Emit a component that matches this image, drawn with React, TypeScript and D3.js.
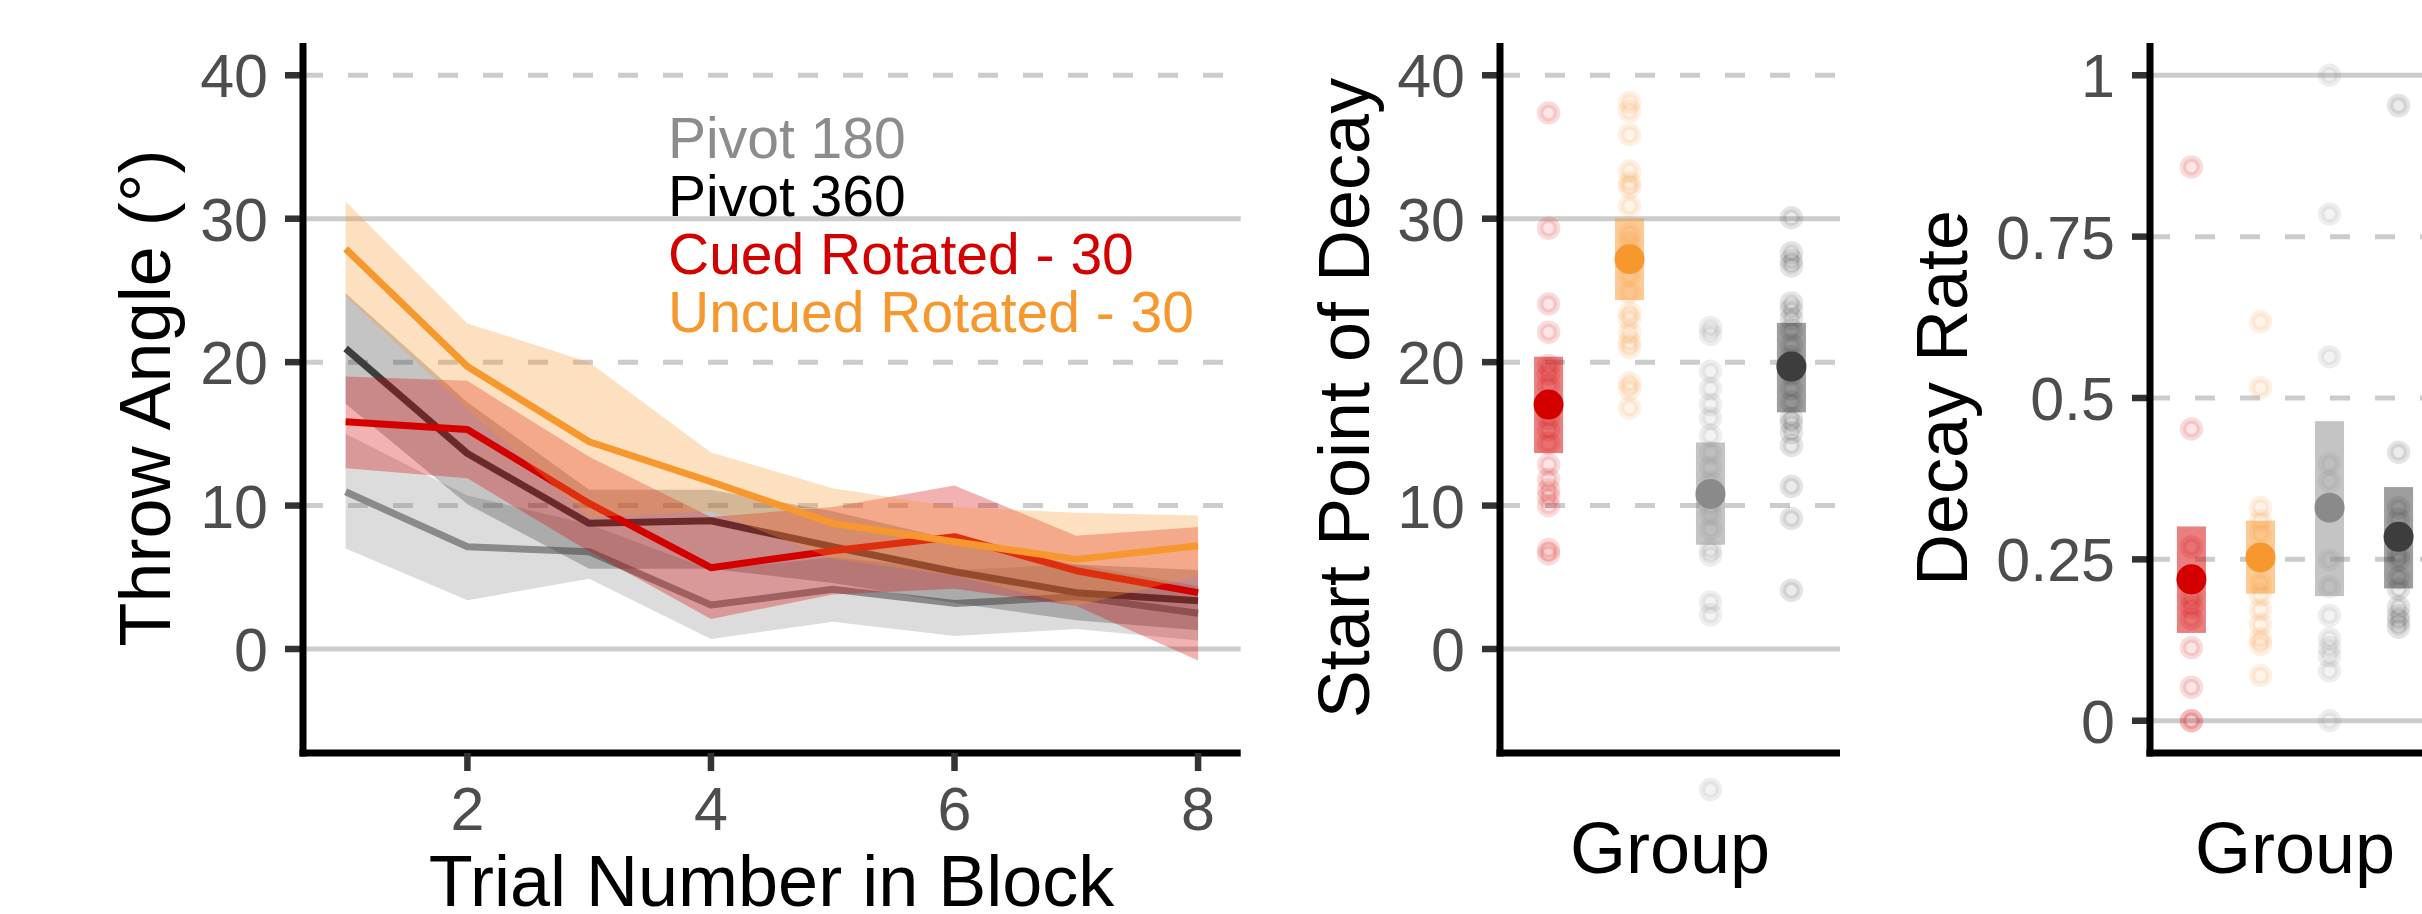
import React, { useEffect } from 'react';
import * as d3 from 'd3';

// ---------- data ----------
const trials = [1, 2, 3, 4, 5, 6, 7, 8];
const xTicks = [2, 4, 6, 8];
const yTicksAngle = [0, 10, 20, 30, 40];
const yTicksRate = [0, 0.25, 0.5, 0.75, 1];
const yTickRateLabels = ['0', '0.25', '0.5', '0.75', '1'];

const pivot180Mean = [10.96, 7.13, 6.78, 3.07, 4.16, 3.18, 3.65, 2.49];
const pivot180Upper = [15.0, 10.7, 8.7, 5.5, 6.4, 5.5, 5.9, 4.4];
const pivot180Lower = [7.0, 3.4, 4.9, 0.7, 1.9, 0.9, 1.4, 0.6];

const pivot360Mean = [20.95, 13.63, 8.76, 8.94, 7.13, 5.39, 3.93, 3.37];
const pivot360Upper = [24.8, 17.2, 11.1, 11.1, 9.6, 7.6, 5.9, 5.5];
const pivot360Lower = [17.1, 10.1, 5.6, 5.6, 4.6, 3.2, 2.0, 1.3];

const cuedMean = [15.84, 15.3, 10.15, 5.67, 6.85, 7.83, 5.46, 3.93];
const cuedUpper = [19.0, 18.7, 13.4, 9.2, 9.9, 11.4, 7.9, 8.5];
const cuedLower = [12.6, 11.9, 6.8, 2.1, 3.8, 4.2, 3.0, -0.8];

const uncuedMean = [27.9, 19.7, 14.45, 11.66, 8.76, 7.48, 6.25, 7.2];
const uncuedUpper = [31.2, 22.7, 20.0, 13.7, 11.2, 9.9, 9.5, 9.3];
const uncuedLower = [24.6, 16.7, 9.2, 9.6, 6.3, 5.1, 3.0, 5.1];

const groups = ['Cued Rotated - 30', 'Uncued Rotated - 30', 'Pivot 180', 'Pivot 360'];
const groupColors = ['#d40000', '#f7982f', '#8a8a8a', '#3d3d3d'];
const legendLabels = ['Pivot 180', 'Pivot 360', 'Cued Rotated - 30', 'Uncued Rotated - 30'];
const legendColors = ['#8c8c8c', '#000000', '#d40000', '#f7982f'];

const cuedStart = [37.37, 29.34, 24.05, 22.09, 19.77, 19.16, 18.35, 17.12, 16.1, 15.29, 14.35, 12.85, 11.83, 11.1, 10.61, 9.99, 6.94, 6.62];
const uncuedStart = [38.1, 37.49, 35.86, 33.33, 32.52, 32.19, 30.89, 28.93, 28.33, 27.63, 26.08, 24.86, 23.44, 23.03, 22.09, 21.4, 21.0, 18.55, 18.14, 16.8];
const pivot180Start = [22.42, 21.93, 19.37, 18.14, 17.04, 16.1, 14.88, 13.66, 12.64, 11.62, 9.99, 9.39, 8.37, 6.94, 6.54, 3.28, 2.38, -9.8];
const pivot360Start = [30.07, 27.63, 27.1, 26.7, 24.13, 23.64, 23.03, 22.22, 21.2, 20.38, 19.16, 18.14, 17.2, 16.1, 15.7, 15.09, 14.19, 11.34, 9.1, 4.09];
const startMean = [17.04, 27.18, 10.81, 19.69];
const startLow = [13.66, 24.33, 7.27, 16.5];
const startHigh = [20.38, 30.03, 14.4, 22.74];

const cuedDecay = [0.858, 0.452, 0.269, 0.213, 0.19, 0.176, 0.158, 0.113, 0.052, 0.0, 0.0];
const uncuedDecay = [0.618, 0.516, 0.33, 0.31, 0.29, 0.25, 0.213, 0.195, 0.172, 0.149, 0.127, 0.118, 0.07];
const pivot180Decay = [1.0, 0.785, 0.564, 0.398, 0.371, 0.249, 0.208, 0.163, 0.127, 0.113, 0.1, 0.077, 0.0];
const pivot360Decay = [0.953, 0.416, 0.33, 0.312, 0.285, 0.258, 0.249, 0.222, 0.204, 0.176, 0.163, 0.154, 0.145];
const decayMean = [0.219, 0.253, 0.33, 0.285];
const decayLow = [0.136, 0.197, 0.193, 0.205];
const decayHigh = [0.301, 0.31, 0.464, 0.362];

// ---------- layout ----------
const W = 2422;
const H = 914;
const FONT = '"Liberation Sans", Arial, Helvetica, sans-serif';
const TICK_COLOR = '#4d4d4d';
const GRID = '#cccccc';
const panelTop = 43;
const panelBottom = 753;

const lineSeries = [
  { mean: pivot180Mean, up: pivot180Upper, lo: pivot180Lower, color: '#8a8a8a' },
  { mean: pivot360Mean, up: pivot360Upper, lo: pivot360Lower, color: '#3d3d3d' },
  { mean: cuedMean, up: cuedUpper, lo: cuedLower, color: '#d40000' },
  { mean: uncuedMean, up: uncuedUpper, lo: uncuedLower, color: '#f7982f' },
];

const startPoints = [cuedStart, uncuedStart, pivot180Start, pivot360Start];
const decayPoints = [cuedDecay, uncuedDecay, pivot180Decay, pivot360Decay];

function Grid({ x0, x1, yScale, ticks, solid }) {
  return (
    <g>
      {ticks.map((t, i) => (
        <line
          key={'g' + i}
          x1={x0}
          x2={x1}
          y1={yScale(t)}
          y2={yScale(t)}
          stroke={GRID}
          strokeWidth={5}
          strokeDasharray={solid.includes(t) ? undefined : '20 25'}
        />
      ))}
    </g>
  );
}

function YAxis({ x0, yScale, ticks, labels }) {
  return (
    <g>
      {ticks.map((t, i) => (
        <g key={i}>
          <line x1={x0 - 18} x2={x0} y1={yScale(t)} y2={yScale(t)} stroke="#333333" strokeWidth={6.5} />
          <text
            x={x0 - 35}
            y={yScale(t) + 22}
            textAnchor="end"
            fontSize={61}
            fill={TICK_COLOR}
            fontFamily={FONT}
          >
            {labels[i]}
          </text>
        </g>
      ))}
      <line x1={x0} x2={x0} y1={panelTop} y2={panelBottom + 3.5} stroke="#000" strokeWidth={7} />
    </g>
  );
}

function PointPanel({ xScale, yScale, pts, means, lows, highs }) {
  return (
    <g>
      {groups.map((g, gi) => (
        <g key={g}>
          {pts[gi].map((v, i) => (
            <circle
              key={i}
              cx={xScale(g)}
              cy={yScale(v)}
              r={8.5}
              fill={groupColors[gi]}
              fillOpacity={0.1}
              stroke={groupColors[gi]}
              strokeOpacity={0.14}
              strokeWidth={6.5}
            />
          ))}
          <rect
            x={xScale(g) - 14.5}
            width={29}
            y={yScale(highs[gi])}
            height={yScale(lows[gi]) - yScale(highs[gi])}
            fill={groupColors[gi]}
            fillOpacity={0.5}
          />
          <circle cx={xScale(g)} cy={yScale(means[gi])} r={15} fill={groupColors[gi]} />
        </g>
      ))}
    </g>
  );
}

export default function App() {
  useEffect(() => {
    document.body.style.margin = '0';
  }, []);

  // Panel 1
  const x1 = d3.scaleLinear().domain([0.65, 8.35]).range([303, 1240.7]);
  const yA = d3.scaleLinear().domain([-7.25, 42.25]).range([panelBottom, panelTop]);
  // Panel 2
  const x2 = d3.scalePoint().domain(groups).range([1500, 1840]).padding(0.6);
  // Panel 3
  const x3 = d3.scalePoint().domain(groups).range([2150, 2440]).padding(0.6);
  const yR = d3.scaleLinear().domain([-0.05, 1.05]).range([panelBottom, panelTop]);

  const area = (s) =>
    d3
      .area()
      .x((_, i) => x1(trials[i]))
      .y0((_, i) => yA(s.lo[i]))
      .y1((_, i) => yA(s.up[i]))(s.mean);
  const line = (s) =>
    d3
      .line()
      .x((_, i) => x1(trials[i]))
      .y((d) => yA(d))(s.mean);

  return (
    <svg
      width={W}
      height={H}
      viewBox={`0 0 ${W} ${H}`}
      style={{ position: 'absolute', left: 0, top: 0, display: 'block', background: '#fff' }}
      fontFamily={FONT}
    >
      <rect x={0} y={0} width={W} height={H} fill="#fff" />

      {/* ---------- Panel 1 ---------- */}
      <Grid x0={303} x1={1240.7} yScale={yA} ticks={yTicksAngle} solid={[0, 30]} />
      {lineSeries.map((s, i) => (
        <g key={i}>
          <path d={area(s)} fill={s.color} fillOpacity={0.3} stroke="none" />
          <path d={line(s)} fill="none" stroke={s.color} strokeWidth={7} strokeLinejoin="round" />
        </g>
      ))}
      {legendLabels.map((l, i) => (
        <text key={l} x={668} y={158 + i * 58} fontSize={57} fill={legendColors[i]} fontFamily={FONT}>
          {l}
        </text>
      ))}
      <YAxis x0={303} yScale={yA} ticks={yTicksAngle} labels={yTicksAngle.map(String)} />
      <line x1={299.5} x2={1240.7} y1={panelBottom} y2={panelBottom} stroke="#000" strokeWidth={7} />
      {xTicks.map((t) => (
        <g key={t}>
          <line x1={x1(t)} x2={x1(t)} y1={panelBottom} y2={panelBottom + 18} stroke="#333333" strokeWidth={6.5} />
          <text x={x1(t)} y={830} textAnchor="middle" fontSize={61} fill={TICK_COLOR} fontFamily={FONT}>
            {t}
          </text>
        </g>
      ))}
      <text x={771.5} y={906} textAnchor="middle" fontSize={72} fill="#000" fontFamily={FONT}>
        Trial Number in Block
      </text>
      <text transform="translate(170,398) rotate(-90)" textAnchor="middle" fontSize={72} fill="#000" fontFamily={FONT}>
        Throw Angle (°)
      </text>

      {/* ---------- Panel 2 ---------- */}
      <Grid x0={1500} x1={1840} yScale={yA} ticks={yTicksAngle} solid={[0, 30]} />
      <PointPanel xScale={x2} yScale={yA} pts={startPoints} means={startMean} lows={startLow} highs={startHigh} />
      <YAxis x0={1500} yScale={yA} ticks={yTicksAngle} labels={yTicksAngle.map(String)} />
      <line x1={1496.5} x2={1840} y1={panelBottom} y2={panelBottom} stroke="#000" strokeWidth={7} />
      <text x={1670} y={873} textAnchor="middle" fontSize={72} fill="#000" fontFamily={FONT}>
        Group
      </text>
      <text transform="translate(1369,398) rotate(-90)" textAnchor="middle" fontSize={72} fill="#000" fontFamily={FONT}>
        Start Point of Decay
      </text>

      {/* ---------- Panel 3 ---------- */}
      <Grid x0={2150} x1={2440} yScale={yR} ticks={yTicksRate} solid={[0, 1]} />
      <PointPanel xScale={x3} yScale={yR} pts={decayPoints} means={decayMean} lows={decayLow} highs={decayHigh} />
      <YAxis x0={2150} yScale={yR} ticks={yTicksRate} labels={yTickRateLabels} />
      <line x1={2146.5} x2={2440} y1={panelBottom} y2={panelBottom} stroke="#000" strokeWidth={7} />
      <text x={2295} y={873} textAnchor="middle" fontSize={72} fill="#000" fontFamily={FONT}>
        Group
      </text>
      <text transform="translate(1967,398) rotate(-90)" textAnchor="middle" fontSize={72} fill="#000" fontFamily={FONT}>
        Decay Rate
      </text>
    </svg>
  );
}
